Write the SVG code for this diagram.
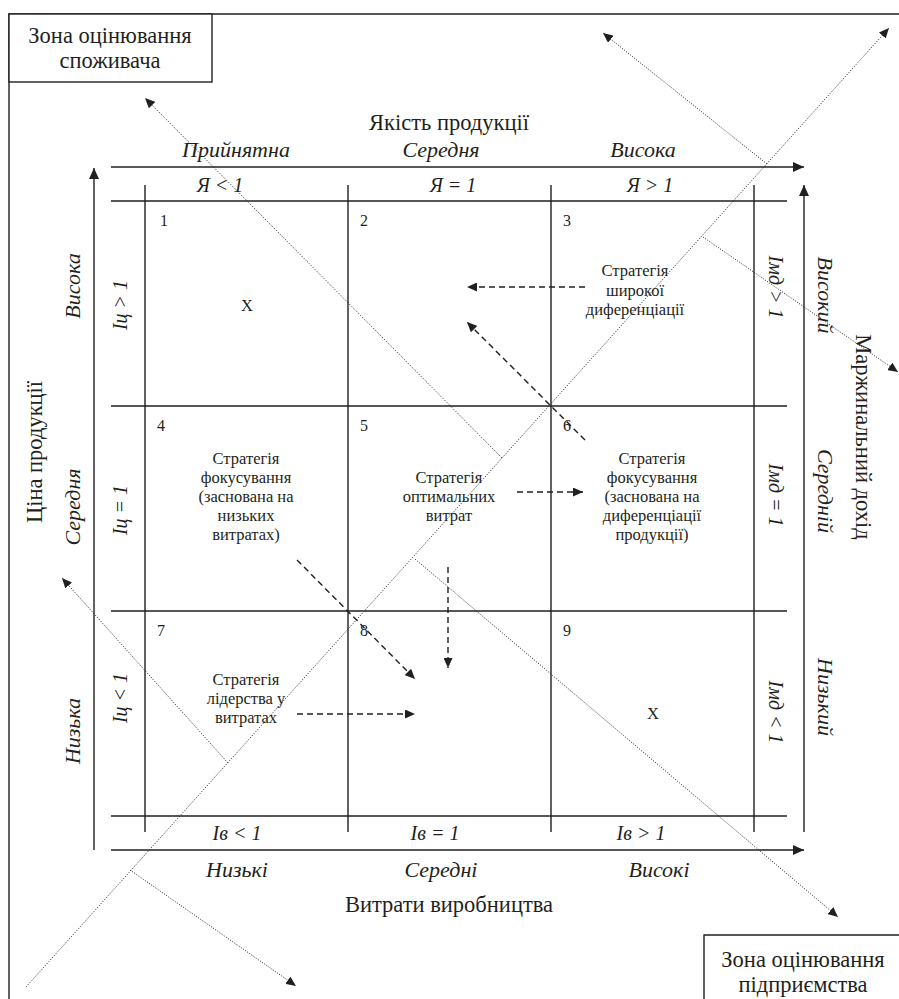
<svg xmlns="http://www.w3.org/2000/svg" width="899" height="999" viewBox="0 0 899 999">
<style>
text{font-family:"Liberation Serif","Times New Roman",serif;fill:#231f20}
.t{font-size:22.5px}
.i{font-size:22px;font-style:italic}
.ix{font-size:20px;font-style:italic}
.c{font-size:16.5px;text-anchor:middle}
.n{font-size:16px}
.m{text-anchor:middle}
.ln{stroke:#231f20;stroke-width:1.4;fill:none}
.dot{stroke:#231f20;stroke-width:1;stroke-dasharray:1 1.6;fill:none}
.dash{stroke:#231f20;stroke-width:1.4;stroke-dasharray:6 4;fill:none}
</style>
<defs>
<marker id="ah" markerUnits="userSpaceOnUse" markerWidth="12" markerHeight="10" refX="11" refY="5" orient="auto">
<path d="M0,0 L11,5 L0,10 z" fill="#231f20"/>
</marker>
<marker id="ahs" markerUnits="userSpaceOnUse" markerWidth="11" markerHeight="9" refX="10" refY="4.5" orient="auto">
<path d="M0,0 L10,4.5 L0,9 z" fill="#231f20"/>
</marker>
</defs>
<rect width="899" height="999" fill="#fff"/>

<g id="frame">
<path class="ln" d="M9,999 L9,14 L899,14"/>
</g>

<g id="zone-consumer">
<rect x="9" y="14" width="203" height="68" fill="#fff" stroke="#231f20" stroke-width="1.4"/>
<text class="t m" x="110" y="43">Зона оцінювання</text>
<text class="t m" x="110" y="68">споживача</text>
</g>

<g id="zone-enterprise">
<path d="M704,999 L704,935 L899,935" fill="#fff" stroke="#231f20" stroke-width="1.4"/>
<text class="t m" x="803" y="967">Зона оцінювання</text>
<text class="t m" x="803" y="992">підприємства</text>
</g>

<g id="grid">
<path class="ln" d="M111,201 H787 M111,406 H787 M111,611 H787 M111,816 H787"/>
<path class="ln" d="M145,185 V832 M348,185 V832 M551,185 V832 M754,185 V832"/>
</g>

<g id="axes">
<path class="ln" d="M111,167 L804,167" marker-end="url(#ah)"/>
<path class="ln" d="M111,850 L804,850" marker-end="url(#ah)"/>
<path class="ln" d="M94,850 L94,168" marker-end="url(#ah)"/>
<path class="ln" d="M804,832 L804,185" marker-end="url(#ah)"/>
</g>

<g id="axis-top">
<text class="t m" x="449" y="130">Якість продукції</text>
<text class="i m" x="236" y="157">Прийнятна</text>
<text class="i m" x="441" y="157">Середня</text>
<text class="i m" x="643" y="157">Висока</text>
<text class="ix m" x="220" y="192">Я &lt; 1</text>
<text class="ix m" x="453" y="192">Я = 1</text>
<text class="ix m" x="650" y="192">Я &gt; 1</text>
</g>

<g id="axis-bottom">
<text class="ix m" x="237" y="840">Ів &lt; 1</text>
<text class="ix m" x="435" y="840">Ів = 1</text>
<text class="ix m" x="641" y="840">Ів &gt; 1</text>
<text class="i m" x="237" y="877">Низькі</text>
<text class="i m" x="441" y="877">Середні</text>
<text class="i m" x="659" y="877">Високі</text>
<text class="t m" x="449" y="912">Витрати виробництва</text>
</g>

<g id="axis-left">
<text class="t m" transform="translate(42,452) rotate(-90)">Ціна продукції</text>
<text class="i m" transform="translate(80,286) rotate(-90)">Висока</text>
<text class="i m" transform="translate(80,507) rotate(-90)">Середня</text>
<text class="i m" transform="translate(80,731) rotate(-90)">Низька</text>
<text class="ix m" transform="translate(127,305) rotate(-90)">Іц &gt; 1</text>
<text class="ix m" transform="translate(127,510) rotate(-90)">Іц = 1</text>
<text class="ix m" transform="translate(127,698) rotate(-90)">Іц &lt; 1</text>
</g>

<g id="axis-right">
<text class="t m" transform="translate(856,437) rotate(90)">Маржинальний дохід</text>
<text class="i m" transform="translate(818,295) rotate(90)">Високий</text>
<text class="i m" transform="translate(818,491) rotate(90)">Середній</text>
<text class="i m" transform="translate(818,697) rotate(90)">Низький</text>
<text class="ix m" transform="translate(769,287) rotate(90)">Імд &gt; 1</text>
<text class="ix m" transform="translate(769,495) rotate(90)">Імд = 1</text>
<text class="ix m" transform="translate(769,712) rotate(90)">Імд &lt; 1</text>
</g>

<g id="cell-1"><text class="n" x="160" y="226">1</text><text class="c" x="247" y="311">X</text></g>
<g id="cell-2"><text class="n" x="360" y="226">2</text></g>
<g id="cell-3"><text class="n" x="563" y="226">3</text>
<text class="c" x="635" y="276">Стратегія</text>
<text class="c" x="635" y="296">широкої</text>
<text class="c" x="635" y="315">диференціації</text></g>
<g id="cell-4"><text class="n" x="157" y="431">4</text>
<text class="c" x="246" y="464">Стратегія</text>
<text class="c" x="246" y="483">фокусування</text>
<text class="c" x="246" y="502">(заснована на</text>
<text class="c" x="246" y="521">низьких</text>
<text class="c" x="246" y="540">витратах)</text></g>
<g id="cell-5"><text class="n" x="360" y="431">5</text>
<text class="c" x="449" y="483">Стратегія</text>
<text class="c" x="449" y="502">оптимальних</text>
<text class="c" x="449" y="521">витрат</text></g>
<g id="cell-6"><text class="n" x="563" y="431">6</text>
<text class="c" x="652" y="464">Стратегія</text>
<text class="c" x="652" y="483">фокусування</text>
<text class="c" x="652" y="502">(заснована на</text>
<text class="c" x="652" y="521">диференціації</text>
<text class="c" x="652" y="540">продукції)</text></g>
<g id="cell-7"><text class="n" x="157" y="636">7</text>
<text class="c" x="246" y="685">Стратегія</text>
<text class="c" x="246" y="704">лідерства у</text>
<text class="c" x="246" y="723">витратах</text></g>
<g id="cell-8"><text class="n" x="360" y="636">8</text></g>
<g id="cell-9"><text class="n" x="563" y="636">9</text><text class="c" x="653" y="719">X</text></g>

<g id="connectors">
<path class="dot" d="M26,987 L889,28" marker-end="url(#ahs)"/>
<path class="dot" d="M502,458 L145,98" marker-end="url(#ahs)"/>
<path class="dot" d="M767,164 L603,33" marker-end="url(#ahs)"/>
<path class="dot" d="M703,237 L898,372" marker-end="url(#ahs)"/>
<path class="dot" d="M228,763 L62,578" marker-end="url(#ahs)"/>
<path class="dot" d="M415,559 L838,917" marker-end="url(#ahs)"/>
<path class="dot" d="M130,870 L296,986" marker-end="url(#ahs)"/>
<path class="dash" d="M585,287 L467,287" marker-end="url(#ahs)"/>
<path class="dash" d="M585,440 L467,322" marker-end="url(#ahs)"/>
<path class="dash" d="M517,492 L583,492" marker-end="url(#ahs)"/>
<path class="dash" d="M448,567 L448,668" marker-end="url(#ahs)"/>
<path class="dash" d="M297,560 L415,679" marker-end="url(#ahs)"/>
<path class="dash" d="M297,714 L415,714" marker-end="url(#ahs)"/>
</g>
</svg>
